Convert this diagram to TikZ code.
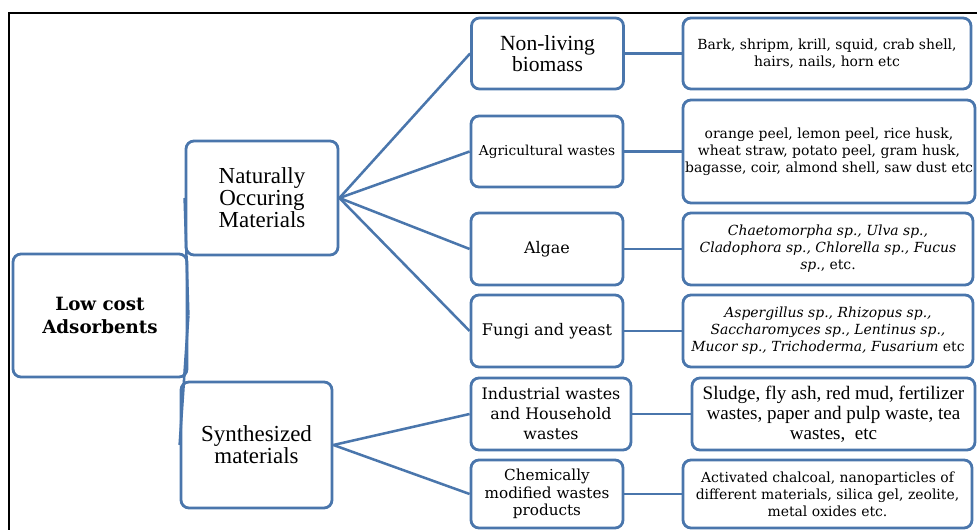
\documentclass[tikz,border=0pt]{standalone}
\usepackage{fontspec}
\setmainfont{Liberation Serif}
\newfontfamily\dvs{DejaVu Serif}
\definecolor{bblue}{RGB}{74,118,172}
\begin{document}
\begin{tikzpicture}[x=0.75pt,y=-0.75pt,
  bx/.style={draw=bblue,line width=2.1pt,rounded corners=6pt,fill=white,align=center,inner sep=0pt},
  conn/.style={draw=bblue,line width=1.9pt},
  big/.style={font=\fontsize{17.2}{16.5}\selectfont},
  sml/.style={font=\dvs\fontsize{10.45}{12.8}\selectfont}]
\useasboundingbox (0,0) rectangle (977,530);
\draw[line width=2pt] (9,535) -- (9,13) -- (985,13);
% level 1
\node[bx,minimum width=130.5pt,minimum height=92.25pt,font=\dvs\bfseries\fontsize{13.7}{17.25}\selectfont] (low) at (100,315.5) {Low cost\\Adsorbents};
% level 2
\node[bx,big,minimum width=114pt,minimum height=85.5pt] (nat) at (262,198) {Naturally\\Occuring\\Materials};
\node[bx,big,minimum width=113.25pt,minimum height=94.5pt] (syn) at (256.5,445) {Synthesized\\materials};
% level 3
\node[bx,font=\fontsize{16.2}{15.75}\selectfont,minimum width=114pt,minimum height=53.25pt] (nl) at (547.5,53.5) {Non-living\\biomass};
\node[bx,font=\dvs\fontsize{10.3}{14}\selectfont,minimum width=114pt,minimum height=53.25pt] (ag) at (547,151.5) {Agricultural wastes};
\node[bx,font=\dvs\fontsize{12}{14}\selectfont,minimum width=114pt,minimum height=54pt] (al) at (547,249) {Algae};
\node[bx,font=\dvs\fontsize{12}{14}\selectfont,minimum width=114pt,minimum height=54pt] (fu) at (547,331) {Fungi and yeast};
\node[bx,font=\dvs\fontsize{11.9}{15}\selectfont,minimum width=120pt,minimum height=54pt] (in) at (551,414) {Industrial wastes\\and Household\\wastes};
\node[bx,font=\dvs\fontsize{11.4}{12.9}\selectfont,minimum width=114pt,minimum height=51pt] (ch) at (547,494) {Chemically\\modified wastes\\products};
% level 4
\node[bx,sml,minimum width=216pt,minimum height=53.25pt] (r1) at (827,53.5) {Bark, shripm, krill, squid, crab shell,\\hairs, nails, horn etc};
\node[bx,sml,minimum width=219pt,minimum height=77.25pt] (r2) at (829,151.5) {orange peel, lemon peel, rice husk,\\wheat straw, potato peel, gram husk,\\bagasse, coir, almond shell, saw dust etc};
\node[bx,sml,minimum width=217.5pt,minimum height=54pt] (r3) at (828,249) {\textit{Chaetomorpha sp., Ulva sp.,}\\\textit{Cladophora sp., Chlorella sp., Fucus}\\\textit{sp.}, etc.};
\node[bx,sml,minimum width=217.5pt,minimum height=54pt] (r4) at (828,331) {\textit{Aspergillus sp., Rhizopus sp.,}\\\textit{Saccharomyces sp., Lentinus sp.,}\\\textit{Mucor sp., Trichoderma, Fusarium} etc};
\node[bx,font=\fontsize{14.3}{15}\selectfont,minimum width=212.25pt,minimum height=54pt] (r5) at (833.5,414) {Sludge, fly ash, red mud, fertilizer\\wastes, paper and pulp waste, tea\\wastes,\ \ etc};
\node[bx,sml,minimum width=216.75pt,minimum height=51pt] (r6) at (827.5,494) {Activated chalcoal, nanoparticles of\\different materials, silica gel, zeolite,\\metal oxides etc.};
% connectors
\draw[conn] (low.east) -- (nat.west);
\draw[conn] (low.east) -- (syn.west);
\foreach \t in {nl,ag,al,fu} \draw[conn] (nat.east) -- (\t.west);
\foreach \t in {in,ch} \draw[conn] (syn.east) -- (\t.west);
\draw[conn] (nl) -- (r1);
\draw[conn] (ag) -- (r2);
\draw[conn] (al) -- (r3);
\draw[conn] (fu) -- (r4);
\draw[conn] (in) -- (r5);
\draw[conn] (ch) -- (r6);
\end{tikzpicture}
\end{document}
